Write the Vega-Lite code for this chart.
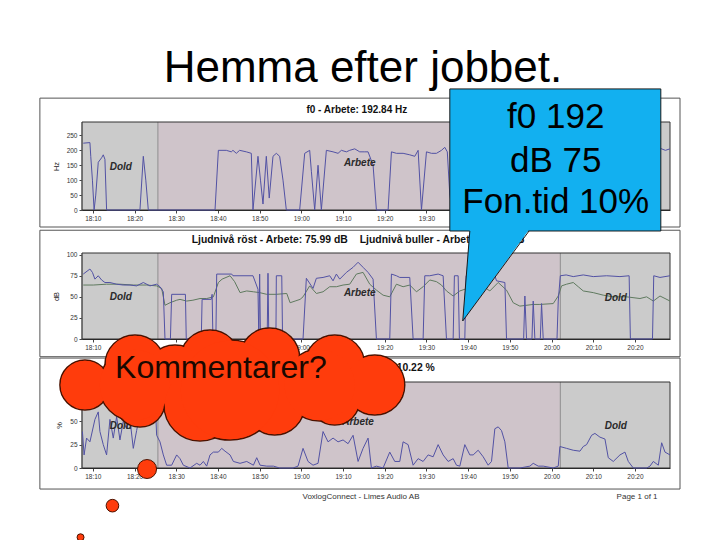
{
  "$schema": "https://vega.github.io/schema/vega-lite/v6.json",
  "background": "white",
  "padding": {"left": 39, "top": 47, "right": 5, "bottom": 0},
  "title": {"text": "Hemma efter jobbet.", "fontSize": 44, "fontWeight": "normal", "font": "Liberation Sans", "color": "#000000", "anchor": "middle", "offset": -3, "dx": 3},
  "config": {
    "font": "Liberation Sans",
    "view": {"stroke": null},
    "axis": {"grid": false, "labelFont": "Liberation Sans", "titleFont": "Liberation Sans", "labelFontSize": 6.5, "titleFontSize": 7.5, "titleFontWeight": "normal", "labelColor": "#333333", "titleColor": "#222222", "domainColor": "#222222", "tickColor": "#444444", "tickSize": 3, "labelPadding": 2}
  },
  "datasets": {
    "regions": [{"m": 7.4, "m2": 25.6, "zon": "Dold"}, {"m": 25.6, "m2": 122.1, "zon": "Arbete"}, {"m": 122.1, "m2": 148.4, "zon": "Dold"}],
    "w25": [{"m":8.1,"v":88.8},{"m":21.3,"v":70.6},{"m":68.0,"v":72.7}],
    "w30": [{"m":20.1,"v":110.2},{"m":38.1,"v":115.5},{"m":52.4,"v":117.6},{"m":68.0,"v":110.2},{"m":77.6,"v":88.8},{"m":53.6,"v":67.4},{"m":29.7,"v":99.5}],
    "w36": [{"m":20.1,"v":88.8},{"m":64.4,"v":88.8},{"m":35.7,"v":67.4}],
    "w50": [{"m":42.9,"v":83.4}],
    "f0": [{"m":7.7,"v":224},{"m":9.3,"v":226},{"m":9.5,"v":180},{"m":9.9,"v":100},{"m":10.3,"v":0},{"m":10.7,"v":50},{"m":11.3,"v":160},{"m":12.1,"v":175},{"m":12.5,"v":185},{"m":12.9,"v":170},{"m":13.3,"v":0},{"m":21.3,"v":0},{"m":22.1,"v":180},{"m":22.7,"v":100},{"m":23.3,"v":0},{"m":39.3,"v":0},{"m":40.1,"v":200},{"m":42.0,"v":200},{"m":43.2,"v":195},{"m":43.6,"v":200},{"m":44.4,"v":190},{"m":45.2,"v":200},{"m":46.8,"v":195},{"m":48.0,"v":190},{"m":48.4,"v":0},{"m":49.6,"v":180},{"m":50.2,"v":100},{"m":50.8,"v":20},{"m":51.6,"v":180},{"m":52.3,"v":40},{"m":53.2,"v":180},{"m":54.0,"v":190},{"m":54.8,"v":180},{"m":55.6,"v":100},{"m":56.4,"v":0},{"m":59.6,"v":0},{"m":60.8,"v":190},{"m":62.0,"v":200},{"m":62.4,"v":130},{"m":63.2,"v":0},{"m":64.0,"v":150},{"m":64.8,"v":0},{"m":66.0,"v":200},{"m":67.6,"v":195},{"m":68.8,"v":190},{"m":69.6,"v":200},{"m":70.8,"v":195},{"m":71.6,"v":200},{"m":72.8,"v":205},{"m":74.0,"v":195},{"m":75.2,"v":195},{"m":76.0,"v":195},{"m":77.2,"v":150},{"m":78.0,"v":0},{"m":80.8,"v":0},{"m":81.6,"v":195},{"m":82.8,"v":190},{"m":84.4,"v":190},{"m":86.0,"v":185},{"m":87.2,"v":180},{"m":88.0,"v":200},{"m":88.8,"v":0},{"m":90.0,"v":195},{"m":91.2,"v":190},{"m":92.4,"v":190},{"m":93.6,"v":200},{"m":94.4,"v":210},{"m":95.0,"v":195},{"m":95.6,"v":50},{"m":96.2,"v":0},{"m":96.9,"v":0},{"m":97.3,"v":195},{"m":97.8,"v":0},{"m":99.4,"v":0},{"m":99.8,"v":195},{"m":101.5,"v":200},{"m":103.2,"v":190},{"m":105.0,"v":198},{"m":106.4,"v":190},{"m":108.8,"v":185},{"m":109.2,"v":0},{"m":113.4,"v":0},{"m":113.7,"v":170},{"m":114.0,"v":0},{"m":115.4,"v":0},{"m":115.7,"v":160},{"m":116.0,"v":0},{"m":117.4,"v":0},{"m":117.7,"v":150},{"m":118.0,"v":0},{"m":121.8,"v":0},{"m":122.2,"v":200},{"m":124.5,"v":205},{"m":127.0,"v":198},{"m":129.5,"v":202},{"m":132.0,"v":200},{"m":134.5,"v":198},{"m":137.0,"v":203},{"m":138.6,"v":200},{"m":138.9,"v":0},{"m":144.2,"v":0},{"m":144.6,"v":200},{"m":146.2,"v":206},{"m":147.3,"v":200},{"m":148.4,"v":205}],
    "rost": [{"m":7.7,"v":77},{"m":9.3,"v":83},{"m":9.9,"v":79},{"m":10.5,"v":71},{"m":11.3,"v":75},{"m":12.1,"v":70},{"m":12.9,"v":67},{"m":14.1,"v":67},{"m":15.7,"v":65},{"m":17.3,"v":64},{"m":18.9,"v":64},{"m":20.5,"v":63},{"m":22.1,"v":67},{"m":23.7,"v":63},{"m":25.3,"v":65},{"m":26.1,"v":62},{"m":26.9,"v":56},{"m":27.3,"v":0},{"m":28.6,"v":0},{"m":28.9,"v":53},{"m":32.2,"v":53},{"m":32.4,"v":0},{"m":36.0,"v":0},{"m":36.2,"v":47},{"m":38.4,"v":47},{"m":38.6,"v":53},{"m":38.8,"v":0},{"m":39.5,"v":0},{"m":39.7,"v":77},{"m":43.3,"v":77},{"m":43.6,"v":75},{"m":48.4,"v":75},{"m":49.6,"v":59},{"m":49.8,"v":0},{"m":50.0,"v":77},{"m":50.2,"v":0},{"m":51.8,"v":0},{"m":52.0,"v":78},{"m":52.2,"v":0},{"m":53.9,"v":0},{"m":54.0,"v":75},{"m":55.3,"v":75},{"m":55.5,"v":0},{"m":60.4,"v":0},{"m":61.2,"v":72},{"m":62.8,"v":60},{"m":63.6,"v":72},{"m":65.2,"v":73},{"m":66.8,"v":75},{"m":67.6,"v":69},{"m":68.4,"v":77},{"m":69.2,"v":71},{"m":70.8,"v":79},{"m":72.4,"v":85},{"m":73.6,"v":91},{"m":74.8,"v":85},{"m":76.0,"v":79},{"m":77.2,"v":71},{"m":78.0,"v":0},{"m":81.2,"v":0},{"m":81.6,"v":77},{"m":82.8,"v":75},{"m":83.6,"v":73},{"m":86.0,"v":73},{"m":86.8,"v":0},{"m":89.2,"v":0},{"m":89.6,"v":75},{"m":90.8,"v":75},{"m":92.8,"v":77},{"m":94.0,"v":75},{"m":94.8,"v":0},{"m":96.4,"v":0},{"m":96.7,"v":75},{"m":97.6,"v":75},{"m":97.9,"v":0},{"m":99.2,"v":0},{"m":99.5,"v":75},{"m":101.5,"v":75},{"m":103.5,"v":76},{"m":105.5,"v":75},{"m":106.4,"v":75},{"m":106.8,"v":69},{"m":108.8,"v":67},{"m":109.2,"v":0},{"m":113.3,"v":0},{"m":113.6,"v":51},{"m":114.0,"v":0},{"m":115.3,"v":0},{"m":115.6,"v":45},{"m":116.0,"v":0},{"m":117.3,"v":0},{"m":117.6,"v":42},{"m":118.0,"v":0},{"m":121.3,"v":0},{"m":121.6,"v":45},{"m":122.1,"v":75},{"m":123.5,"v":76},{"m":125.2,"v":74},{"m":127.6,"v":76},{"m":130.0,"v":74},{"m":133.2,"v":75},{"m":136.4,"v":74},{"m":138.6,"v":75},{"m":138.9,"v":0},{"m":144.2,"v":0},{"m":144.5,"v":75},{"m":146.0,"v":73},{"m":148.4,"v":75}],
    "buller": [{"m":7.7,"v":64},{"m":10.1,"v":64},{"m":13.3,"v":65},{"m":16.5,"v":65},{"m":19.7,"v":64},{"m":22.9,"v":64},{"m":25.3,"v":63},{"m":26.5,"v":60},{"m":27.3,"v":40},{"m":28.5,"v":43},{"m":30.1,"v":46},{"m":30.9,"v":47},{"m":32.5,"v":45},{"m":34.0,"v":46},{"m":35.7,"v":48},{"m":37.3,"v":48},{"m":38.9,"v":50},{"m":40.1,"v":67},{"m":41.0,"v":71},{"m":42.9,"v":75},{"m":44.0,"v":68},{"m":45.3,"v":55},{"m":46.9,"v":57},{"m":48.5,"v":56},{"m":50.0,"v":55},{"m":51.7,"v":53},{"m":54.0,"v":53},{"m":56.5,"v":54},{"m":57.3,"v":43},{"m":58.5,"v":45},{"m":59.7,"v":47},{"m":60.4,"v":50},{"m":62.0,"v":63},{"m":63.6,"v":54},{"m":65.2,"v":56},{"m":66.8,"v":62},{"m":68.4,"v":62},{"m":70.0,"v":64},{"m":71.6,"v":65},{"m":73.2,"v":77},{"m":74.8,"v":79},{"m":76.4,"v":65},{"m":78.0,"v":58},{"m":79.6,"v":52},{"m":81.2,"v":50},{"m":82.8,"v":65},{"m":84.4,"v":62},{"m":86.0,"v":64},{"m":87.6,"v":56},{"m":89.2,"v":62},{"m":90.8,"v":70},{"m":92.4,"v":68},{"m":93.6,"v":64},{"m":94.8,"v":57},{"m":96.4,"v":51},{"m":98.0,"v":57},{"m":100.4,"v":61},{"m":102.8,"v":65},{"m":105.2,"v":57},{"m":107.2,"v":67},{"m":109.2,"v":58},{"m":110.8,"v":43},{"m":112.4,"v":39},{"m":115.6,"v":41},{"m":117.2,"v":41},{"m":120.4,"v":42},{"m":121.6,"v":51},{"m":122.4,"v":63},{"m":123.6,"v":65},{"m":125.2,"v":67},{"m":126.4,"v":62},{"m":127.6,"v":57},{"m":130.0,"v":55},{"m":132.4,"v":52},{"m":134.8,"v":50},{"m":138.0,"v":50},{"m":141.2,"v":48},{"m":142.8,"v":50},{"m":144.4,"v":45},{"m":146.0,"v":51},{"m":148.4,"v":45}],
    "fon": [{"m":7.5,"v":39},{"m":7.9,"v":14},{"m":8.5,"v":32},{"m":9.3,"v":28},{"m":10.5,"v":52},{"m":11.3,"v":60},{"m":11.7,"v":39},{"m":12.5,"v":25},{"m":13.3,"v":14},{"m":14.1,"v":52},{"m":14.9,"v":32},{"m":15.7,"v":55},{"m":16.5,"v":30},{"m":17.3,"v":50},{"m":18.1,"v":42},{"m":18.9,"v":52},{"m":19.7,"v":21},{"m":20.5,"v":40},{"m":21.3,"v":58},{"m":22.1,"v":45},{"m":22.9,"v":65},{"m":23.7,"v":50},{"m":24.5,"v":70},{"m":25.1,"v":55},{"m":25.3,"v":35},{"m":26.1,"v":28},{"m":26.9,"v":14},{"m":27.7,"v":3},{"m":28.9,"v":3},{"m":30.1,"v":14},{"m":30.9,"v":10},{"m":31.7,"v":3},{"m":33.3,"v":0},{"m":34.9,"v":5},{"m":35.7,"v":3},{"m":36.5,"v":7},{"m":37.3,"v":2},{"m":38.1,"v":14},{"m":38.9,"v":17},{"m":40.1,"v":17},{"m":40.9,"v":21},{"m":41.7,"v":18},{"m":42.9,"v":14},{"m":43.7,"v":7},{"m":45.3,"v":5},{"m":46.9,"v":7},{"m":48.5,"v":3},{"m":49.3,"v":11},{"m":50.1,"v":3},{"m":51.7,"v":2},{"m":53.3,"v":2},{"m":54.8,"v":0},{"m":58.0,"v":0},{"m":59.2,"v":2},{"m":60.4,"v":21},{"m":61.6,"v":7},{"m":62.8,"v":3},{"m":64.0,"v":5},{"m":65.2,"v":39},{"m":66.4,"v":28},{"m":67.6,"v":32},{"m":68.8,"v":28},{"m":70.0,"v":30},{"m":71.2,"v":26},{"m":72.4,"v":35},{"m":73.6,"v":7},{"m":74.8,"v":21},{"m":76.0,"v":32},{"m":76.8,"v":0},{"m":78.0,"v":2},{"m":79.6,"v":0},{"m":81.2,"v":17},{"m":82.4,"v":7},{"m":83.6,"v":7},{"m":84.4,"v":28},{"m":85.6,"v":25},{"m":86.8,"v":3},{"m":88.0,"v":10},{"m":89.2,"v":7},{"m":90.4,"v":14},{"m":91.6,"v":12},{"m":92.8,"v":25},{"m":94.0,"v":14},{"m":95.2,"v":7},{"m":96.4,"v":10},{"m":97.2,"v":3},{"m":98.0,"v":2},{"m":99.2,"v":25},{"m":100.4,"v":14},{"m":101.2,"v":14},{"m":102.4,"v":19},{"m":103.6,"v":12},{"m":104.8,"v":3},{"m":105.6,"v":7},{"m":106.4,"v":42},{"m":107.2,"v":44},{"m":108.0,"v":40},{"m":108.8,"v":28},{"m":109.6,"v":0},{"m":112.4,"v":0},{"m":114.8,"v":2},{"m":115.6,"v":5},{"m":116.8,"v":2},{"m":118.0,"v":2},{"m":120.4,"v":0},{"m":121.6,"v":2},{"m":122.0,"v":23},{"m":123.6,"v":21},{"m":125.2,"v":19},{"m":126.8,"v":18},{"m":127.6,"v":23},{"m":128.4,"v":25},{"m":129.6,"v":35},{"m":130.4,"v":37},{"m":131.6,"v":33},{"m":132.8,"v":31},{"m":133.6,"v":11},{"m":134.8,"v":7},{"m":136.4,"v":14},{"m":137.6,"v":17},{"m":138.4,"v":7},{"m":139.6,"v":0},{"m":142.8,"v":0},{"m":143.6,"v":2},{"m":144.4,"v":7},{"m":145.6,"v":3},{"m":146.4,"v":27},{"m":147.2,"v":17},{"m":148.4,"v":14}]
  },
  "bounds": "flush",
  "spacing": 43,
  "vconcat": [
    {
      "width": 588, "height": 88,
      "layer": [
        {"data": {"values": [{"m": -2.7, "m2": 150.8, "v": 375, "v2": -57}]}, "mark": {"type": "rect", "filled": false, "stroke": "#555555", "strokeWidth": 1},
         "encoding": {"x": {"field": "m", "type": "quantitative", "scale": {"domain": [7.4, 148.4], "nice": false, "zero": false}, "axis": {"title": null, "values": [10,20,30,40,50,60,70,80,90], "labelExpr": "timeFormat(datetime(2000, 0, 1, 18, datum.value, 0, 0), '%H:%M')"}}, "x2": {"field": "m2"}, "y": {"field": "v", "type": "quantitative", "scale": {"domain": [0, 295], "nice": false}, "axis": {"title": "Hz", "values": [0, 50, 100, 150, 200, 250], "titlePadding": 6}}, "y2": {"field": "v2"}}},
        {"data": {"name": "regions"}, "mark": {"type": "rect"},
         "encoding": {"x": {"field": "m", "type": "quantitative", "scale": {"domain": [7.4, 148.4], "nice": false, "zero": false}, "axis": {"title": null, "values": [10,20,30,40,50,60,70,80,90], "labelExpr": "timeFormat(datetime(2000, 0, 1, 18, datum.value, 0, 0), '%H:%M')"}}, "x2": {"field": "m2"}, "color": {"field": "zon", "type": "nominal", "scale": {"domain": ["Dold", "Arbete"], "range": ["#cbcbcb", "#cfc4ca"]}, "legend": null}}},
        {"data": {"name": "regions"}, "mark": {"type": "rule", "color": "#8c8c8c", "strokeWidth": 1},
         "encoding": {"x": {"field": "m", "type": "quantitative", "scale": {"domain": [7.4, 148.4], "nice": false, "zero": false}, "axis": {"title": null, "values": [10,20,30,40,50,60,70,80,90], "labelExpr": "timeFormat(datetime(2000, 0, 1, 18, datum.value, 0, 0), '%H:%M')"}}}},
        {"data": {"values": [{"m": 7.4, "m2": 148.4, "v": 0, "v2": 295}]}, "mark": {"type": "rect", "filled": false, "stroke": "#333333", "strokeWidth": 1},
         "encoding": {"x": {"field": "m", "type": "quantitative", "scale": {"domain": [7.4, 148.4], "nice": false, "zero": false}, "axis": {"title": null, "values": [10,20,30,40,50,60,70,80,90], "labelExpr": "timeFormat(datetime(2000, 0, 1, 18, datum.value, 0, 0), '%H:%M')"}}, "x2": {"field": "m2"}, "y": {"field": "v", "type": "quantitative", "scale": {"domain": [0, 295], "nice": false}, "axis": {"title": "Hz", "values": [0, 50, 100, 150, 200, 250], "titlePadding": 6}}, "y2": {"field": "v2"}}},
        {"data": {"name": "f0"}, "mark": {"type": "line", "color": "#5252a4", "strokeWidth": 1},
         "encoding": {"x": {"field": "m", "type": "quantitative", "scale": {"domain": [7.4, 148.4], "nice": false, "zero": false}, "axis": {"title": null, "values": [10,20,30,40,50,60,70,80,90], "labelExpr": "timeFormat(datetime(2000, 0, 1, 18, datum.value, 0, 0), '%H:%M')"}}, "y": {"field": "v", "type": "quantitative", "scale": {"domain": [0, 295], "nice": false}, "axis": {"title": "Hz", "values": [0, 50, 100, 150, 200, 250], "titlePadding": 6}}}},
        {"data": {"values": [{"m": 16.7, "v": 145, "t": "Dold"}, {"m": 74.0, "v": 159, "t": "Arbete"}]}, "mark": {"type": "text", "fontSize": 10, "fontWeight": "bold", "fontStyle": "italic", "color": "#2a2a2a"},
         "encoding": {"x": {"field": "m", "type": "quantitative", "scale": {"domain": [7.4, 148.4], "nice": false, "zero": false}, "axis": {"title": null, "values": [10,20,30,40,50,60,70,80,90], "labelExpr": "timeFormat(datetime(2000, 0, 1, 18, datum.value, 0, 0), '%H:%M')"}}, "y": {"field": "v", "type": "quantitative", "scale": {"domain": [0, 295], "nice": false}, "axis": {"title": "Hz", "values": [0, 50, 100, 150, 200, 250], "titlePadding": 6}}, "text": {"field": "t"}}},
        {"data": {"values": [{"m": 73.3, "v": 335, "t": "f0 - Arbete: 192.84 Hz"}]}, "mark": {"type": "text", "fontSize": 10, "fontWeight": "bold", "color": "#111111"},
         "encoding": {"x": {"field": "m", "type": "quantitative", "scale": {"domain": [7.4, 148.4], "nice": false, "zero": false}, "axis": {"title": null, "values": [10,20,30,40,50,60,70,80,90], "labelExpr": "timeFormat(datetime(2000, 0, 1, 18, datum.value, 0, 0), '%H:%M')"}}, "y": {"field": "v", "type": "quantitative", "scale": {"domain": [0, 295], "nice": false}, "axis": {"title": "Hz", "values": [0, 50, 100, 150, 200, 250], "titlePadding": 6}}, "text": {"field": "t"}}}
      ]
    },
    {
      "width": 588, "height": 86,
      "layer": [
        {"data": {"values": [{"m": -2.7, "m2": 150.8, "v": 129, "v2": -21}]}, "mark": {"type": "rect", "filled": false, "stroke": "#555555", "strokeWidth": 1},
         "encoding": {"x": {"field": "m", "type": "quantitative", "scale": {"domain": [7.4, 148.4], "nice": false, "zero": false}, "axis": {"title": null, "values": [10,20,30,40,50,60,70,80,90,100,110,120,130,140], "labelExpr": "timeFormat(datetime(2000, 0, 1, 18, datum.value, 0, 0), '%H:%M')"}}, "x2": {"field": "m2"}, "y": {"field": "v", "type": "quantitative", "scale": {"domain": [0, 102], "nice": false}, "axis": {"title": "dB", "values": [0, 25, 50, 75, 100], "titlePadding": 6}}, "y2": {"field": "v2"}}},
        {"data": {"name": "regions"}, "mark": {"type": "rect"},
         "encoding": {"x": {"field": "m", "type": "quantitative", "scale": {"domain": [7.4, 148.4], "nice": false, "zero": false}, "axis": {"title": null, "values": [10,20,30,40,50,60,70,80,90,100,110,120,130,140], "labelExpr": "timeFormat(datetime(2000, 0, 1, 18, datum.value, 0, 0), '%H:%M')"}}, "x2": {"field": "m2"}, "color": {"field": "zon", "type": "nominal", "scale": {"domain": ["Dold", "Arbete"], "range": ["#cbcbcb", "#cfc4ca"]}, "legend": null}}},
        {"data": {"name": "regions"}, "mark": {"type": "rule", "color": "#8c8c8c", "strokeWidth": 1},
         "encoding": {"x": {"field": "m", "type": "quantitative", "scale": {"domain": [7.4, 148.4], "nice": false, "zero": false}, "axis": {"title": null, "values": [10,20,30,40,50,60,70,80,90,100,110,120,130,140], "labelExpr": "timeFormat(datetime(2000, 0, 1, 18, datum.value, 0, 0), '%H:%M')"}}}},
        {"data": {"values": [{"m": 7.4, "m2": 148.4, "v": 0, "v2": 102}]}, "mark": {"type": "rect", "filled": false, "stroke": "#333333", "strokeWidth": 1},
         "encoding": {"x": {"field": "m", "type": "quantitative", "scale": {"domain": [7.4, 148.4], "nice": false, "zero": false}, "axis": {"title": null, "values": [10,20,30,40,50,60,70,80,90,100,110,120,130,140], "labelExpr": "timeFormat(datetime(2000, 0, 1, 18, datum.value, 0, 0), '%H:%M')"}}, "x2": {"field": "m2"}, "y": {"field": "v", "type": "quantitative", "scale": {"domain": [0, 102], "nice": false}, "axis": {"title": "dB", "values": [0, 25, 50, 75, 100], "titlePadding": 6}}, "y2": {"field": "v2"}}},
        {"data": {"name": "buller"}, "mark": {"type": "line", "color": "#5f7a5f", "strokeWidth": 1},
         "encoding": {"x": {"field": "m", "type": "quantitative", "scale": {"domain": [7.4, 148.4], "nice": false, "zero": false}, "axis": {"title": null, "values": [10,20,30,40,50,60,70,80,90,100,110,120,130,140], "labelExpr": "timeFormat(datetime(2000, 0, 1, 18, datum.value, 0, 0), '%H:%M')"}}, "y": {"field": "v", "type": "quantitative", "scale": {"domain": [0, 102], "nice": false}, "axis": {"title": "dB", "values": [0, 25, 50, 75, 100], "titlePadding": 6}}}},
        {"data": {"name": "rost"}, "mark": {"type": "line", "color": "#5252a4", "strokeWidth": 1},
         "encoding": {"x": {"field": "m", "type": "quantitative", "scale": {"domain": [7.4, 148.4], "nice": false, "zero": false}, "axis": {"title": null, "values": [10,20,30,40,50,60,70,80,90,100,110,120,130,140], "labelExpr": "timeFormat(datetime(2000, 0, 1, 18, datum.value, 0, 0), '%H:%M')"}}, "y": {"field": "v", "type": "quantitative", "scale": {"domain": [0, 102], "nice": false}, "axis": {"title": "dB", "values": [0, 25, 50, 75, 100], "titlePadding": 6}}}},
        {"data": {"values": [{"m": 16.7, "v": 50, "t": "Dold"}, {"m": 74.0, "v": 54, "t": "Arbete"}, {"m": 135.4, "v": 49, "t": "Dold"}]}, "mark": {"type": "text", "fontSize": 10, "fontWeight": "bold", "fontStyle": "italic", "color": "#2a2a2a"},
         "encoding": {"x": {"field": "m", "type": "quantitative", "scale": {"domain": [7.4, 148.4], "nice": false, "zero": false}, "axis": {"title": null, "values": [10,20,30,40,50,60,70,80,90,100,110,120,130,140], "labelExpr": "timeFormat(datetime(2000, 0, 1, 18, datum.value, 0, 0), '%H:%M')"}}, "y": {"field": "v", "type": "quantitative", "scale": {"domain": [0, 102], "nice": false}, "axis": {"title": "dB", "values": [0, 25, 50, 75, 100], "titlePadding": 6}}, "text": {"field": "t"}}},
        {"data": {"values": [{"m": 33.7, "v": 117.4, "t": "Ljudnivå röst - Arbete: 75.99 dB"}, {"m": 74.0, "v": 117.4, "t": "Ljudnivå buller - Arbete: 57.41 dB"}]}, "mark": {"type": "text", "fontSize": 10.4, "fontWeight": "bold", "align": "left", "color": "#111111"},
         "encoding": {"x": {"field": "m", "type": "quantitative", "scale": {"domain": [7.4, 148.4], "nice": false, "zero": false}, "axis": {"title": null, "values": [10,20,30,40,50,60,70,80,90,100,110,120,130,140], "labelExpr": "timeFormat(datetime(2000, 0, 1, 18, datum.value, 0, 0), '%H:%M')"}}, "y": {"field": "v", "type": "quantitative", "scale": {"domain": [0, 102], "nice": false}, "axis": {"title": "dB", "values": [0, 25, 50, 75, 100], "titlePadding": 6}}, "text": {"field": "t"}}},
        {"data": {"values": [{"m": 95.6, "m2": 146.2, "v": 296.6, "v2": 128.1}]}, "mark": {"type": "rect", "fill": "#12b0f0", "stroke": "#1a1a1a", "strokeWidth": 1},
         "encoding": {"x": {"field": "m", "type": "quantitative", "scale": {"domain": [7.4, 148.4], "nice": false, "zero": false}, "axis": {"title": null, "values": [10,20,30,40,50,60,70,80,90,100,110,120,130,140], "labelExpr": "timeFormat(datetime(2000, 0, 1, 18, datum.value, 0, 0), '%H:%M')"}}, "x2": {"field": "m2"}, "y": {"field": "v", "type": "quantitative", "scale": {"domain": [0, 102], "nice": false}, "axis": {"title": "dB", "values": [0, 25, 50, 75, 100], "titlePadding": 6}}, "y2": {"field": "v2"}}},
        {"data": {"values": [{"m": 98.7, "v": 21.4, "v2": 21.4}, {"m": 100.4, "v": 131, "v2": 33.0}, {"m": 114.8, "v": 131, "v2": 131}]}, "mark": {"type": "area", "fill": "#12b0f0", "opacity": 1},
         "encoding": {"x": {"field": "m", "type": "quantitative", "scale": {"domain": [7.4, 148.4], "nice": false, "zero": false}, "axis": {"title": null, "values": [10,20,30,40,50,60,70,80,90,100,110,120,130,140], "labelExpr": "timeFormat(datetime(2000, 0, 1, 18, datum.value, 0, 0), '%H:%M')"}}, "y": {"field": "v", "type": "quantitative", "scale": {"domain": [0, 102], "nice": false}, "axis": {"title": "dB", "values": [0, 25, 50, 75, 100], "titlePadding": 6}}, "y2": {"field": "v2"}}},
        {"data": {"values": [{"m": 100.4, "v": 128.1, "o": 1}, {"m": 98.7, "v": 21.4, "o": 2}, {"m": 114.6, "v": 128.1, "o": 3}]}, "mark": {"type": "line", "color": "#1a1a1a", "strokeWidth": 1},
         "encoding": {"x": {"field": "m", "type": "quantitative", "scale": {"domain": [7.4, 148.4], "nice": false, "zero": false}, "axis": {"title": null, "values": [10,20,30,40,50,60,70,80,90,100,110,120,130,140], "labelExpr": "timeFormat(datetime(2000, 0, 1, 18, datum.value, 0, 0), '%H:%M')"}}, "y": {"field": "v", "type": "quantitative", "scale": {"domain": [0, 102], "nice": false}, "axis": {"title": "dB", "values": [0, 25, 50, 75, 100], "titlePadding": 6}}, "order": {"field": "o", "type": "quantitative"}}},
        {"data": {"values": [{"m": 121.0, "v": 250.6, "t": "f0 192"}, {"m": 121.0, "v": 198.1, "t": "dB 75"}, {"m": 121.0, "v": 149.8, "t": "Fon.tid 10%"}]}, "mark": {"type": "text", "fontSize": 35, "font": "Liberation Sans", "baseline": "alphabetic", "align": "center", "color": "#000000"},
         "encoding": {"x": {"field": "m", "type": "quantitative", "scale": {"domain": [7.4, 148.4], "nice": false, "zero": false}, "axis": {"title": null, "values": [10,20,30,40,50,60,70,80,90,100,110,120,130,140], "labelExpr": "timeFormat(datetime(2000, 0, 1, 18, datum.value, 0, 0), '%H:%M')"}}, "y": {"field": "v", "type": "quantitative", "scale": {"domain": [0, 102], "nice": false}, "axis": {"title": "dB", "values": [0, 25, 50, 75, 100], "titlePadding": 6}}, "text": {"field": "t"}}}
      ]
    },
    {
      "width": 588, "height": 86,
      "layer": [
        {"data": {"values": [{"m": -2.7, "m2": 150.8, "v": 117.6, "v2": -22.5}]}, "mark": {"type": "rect", "filled": false, "stroke": "#555555", "strokeWidth": 1},
         "encoding": {"x": {"field": "m", "type": "quantitative", "scale": {"domain": [7.4, 148.4], "nice": false, "zero": false}, "axis": {"title": null, "values": [10,20,30,40,50,60,70,80,90,100,110,120,130,140], "labelExpr": "timeFormat(datetime(2000, 0, 1, 18, datum.value, 0, 0), '%H:%M')"}}, "x2": {"field": "m2"}, "y": {"field": "v", "type": "quantitative", "scale": {"domain": [0, 92], "nice": false}, "axis": {"title": "%", "values": [0, 25, 50, 75], "titlePadding": 6}}, "y2": {"field": "v2"}}},
        {"data": {"name": "regions"}, "mark": {"type": "rect"},
         "encoding": {"x": {"field": "m", "type": "quantitative", "scale": {"domain": [7.4, 148.4], "nice": false, "zero": false}, "axis": {"title": null, "values": [10,20,30,40,50,60,70,80,90,100,110,120,130,140], "labelExpr": "timeFormat(datetime(2000, 0, 1, 18, datum.value, 0, 0), '%H:%M')"}}, "x2": {"field": "m2"}, "color": {"field": "zon", "type": "nominal", "scale": {"domain": ["Dold", "Arbete"], "range": ["#cbcbcb", "#cfc4ca"]}, "legend": null}}},
        {"data": {"name": "regions"}, "mark": {"type": "rule", "color": "#8c8c8c", "strokeWidth": 1},
         "encoding": {"x": {"field": "m", "type": "quantitative", "scale": {"domain": [7.4, 148.4], "nice": false, "zero": false}, "axis": {"title": null, "values": [10,20,30,40,50,60,70,80,90,100,110,120,130,140], "labelExpr": "timeFormat(datetime(2000, 0, 1, 18, datum.value, 0, 0), '%H:%M')"}}}},
        {"data": {"values": [{"m": 7.4, "m2": 148.4, "v": 0, "v2": 92}]}, "mark": {"type": "rect", "filled": false, "stroke": "#333333", "strokeWidth": 1},
         "encoding": {"x": {"field": "m", "type": "quantitative", "scale": {"domain": [7.4, 148.4], "nice": false, "zero": false}, "axis": {"title": null, "values": [10,20,30,40,50,60,70,80,90,100,110,120,130,140], "labelExpr": "timeFormat(datetime(2000, 0, 1, 18, datum.value, 0, 0), '%H:%M')"}}, "x2": {"field": "m2"}, "y": {"field": "v", "type": "quantitative", "scale": {"domain": [0, 92], "nice": false}, "axis": {"title": "%", "values": [0, 25, 50, 75], "titlePadding": 6}}, "y2": {"field": "v2"}}},
        {"data": {"name": "fon"}, "mark": {"type": "line", "color": "#5252a4", "strokeWidth": 1},
         "encoding": {"x": {"field": "m", "type": "quantitative", "scale": {"domain": [7.4, 148.4], "nice": false, "zero": false}, "axis": {"title": null, "values": [10,20,30,40,50,60,70,80,90,100,110,120,130,140], "labelExpr": "timeFormat(datetime(2000, 0, 1, 18, datum.value, 0, 0), '%H:%M')"}}, "y": {"field": "v", "type": "quantitative", "scale": {"domain": [0, 92], "nice": false}, "axis": {"title": "%", "values": [0, 25, 50, 75], "titlePadding": 6}}}},
        {"data": {"values": [{"m": 16.7, "v": 44.4, "t": "Dold"}, {"m": 73.6, "v": 49.7, "t": "Arbete"}, {"m": 135.4, "v": 45, "t": "Dold"}]}, "mark": {"type": "text", "fontSize": 10, "fontWeight": "bold", "fontStyle": "italic", "color": "#2a2a2a"},
         "encoding": {"x": {"field": "m", "type": "quantitative", "scale": {"domain": [7.4, 148.4], "nice": false, "zero": false}, "axis": {"title": null, "values": [10,20,30,40,50,60,70,80,90,100,110,120,130,140], "labelExpr": "timeFormat(datetime(2000, 0, 1, 18, datum.value, 0, 0), '%H:%M')"}}, "y": {"field": "v", "type": "quantitative", "scale": {"domain": [0, 92], "nice": false}, "axis": {"title": "%", "values": [0, 25, 50, 75], "titlePadding": 6}}, "text": {"field": "t"}}},
        {"data": {"values": [{"m": 92.0, "v": 107.5, "t": "Arbete: 10.22 %"}]}, "mark": {"type": "text", "fontSize": 10.4, "fontWeight": "bold", "align": "right", "color": "#111111"},
         "encoding": {"x": {"field": "m", "type": "quantitative", "scale": {"domain": [7.4, 148.4], "nice": false, "zero": false}, "axis": {"title": null, "values": [10,20,30,40,50,60,70,80,90,100,110,120,130,140], "labelExpr": "timeFormat(datetime(2000, 0, 1, 18, datum.value, 0, 0), '%H:%M')"}}, "y": {"field": "v", "type": "quantitative", "scale": {"domain": [0, 92], "nice": false}, "axis": {"title": "%", "values": [0, 25, 50, 75], "titlePadding": 6}}, "text": {"field": "t"}}},
        {"data": {"values": [{"m": 74.3, "v": -31, "t": "VoxlogConnect - Limes Audio AB"}, {"m": 140.5, "v": -31, "t": "Page 1 of 1"}]}, "mark": {"type": "text", "fontSize": 8, "color": "#333333"},
         "encoding": {"x": {"field": "m", "type": "quantitative", "scale": {"domain": [7.4, 148.4], "nice": false, "zero": false}, "axis": {"title": null, "values": [10,20,30,40,50,60,70,80,90,100,110,120,130,140], "labelExpr": "timeFormat(datetime(2000, 0, 1, 18, datum.value, 0, 0), '%H:%M')"}}, "y": {"field": "v", "type": "quantitative", "scale": {"domain": [0, 92], "nice": false}, "axis": {"title": "%", "values": [0, 25, 50, 75], "titlePadding": 6}}, "text": {"field": "t"}}},
        {"data": {"name": "w25"}, "mark": {"type": "point", "shape": "circle", "filled": true, "fill": "#ff3c0c", "stroke": "#4a1200", "strokeWidth": 1.5, "opacity": 1, "size": 2500},
         "encoding": {"x": {"field": "m", "type": "quantitative", "scale": {"domain": [7.4, 148.4], "nice": false, "zero": false}, "axis": {"title": null, "values": [10,20,30,40,50,60,70,80,90,100,110,120,130,140], "labelExpr": "timeFormat(datetime(2000, 0, 1, 18, datum.value, 0, 0), '%H:%M')"}}, "y": {"field": "v", "type": "quantitative", "scale": {"domain": [0, 92], "nice": false}, "axis": {"title": "%", "values": [0, 25, 50, 75], "titlePadding": 6}}}},
        {"data": {"name": "w30"}, "mark": {"type": "point", "shape": "circle", "filled": true, "fill": "#ff3c0c", "stroke": "#4a1200", "strokeWidth": 1.5, "opacity": 1, "size": 3600},
         "encoding": {"x": {"field": "m", "type": "quantitative", "scale": {"domain": [7.4, 148.4], "nice": false, "zero": false}, "axis": {"title": null, "values": [10,20,30,40,50,60,70,80,90,100,110,120,130,140], "labelExpr": "timeFormat(datetime(2000, 0, 1, 18, datum.value, 0, 0), '%H:%M')"}}, "y": {"field": "v", "type": "quantitative", "scale": {"domain": [0, 92], "nice": false}, "axis": {"title": "%", "values": [0, 25, 50, 75], "titlePadding": 6}}}},
        {"data": {"name": "w36"}, "mark": {"type": "point", "shape": "circle", "filled": true, "fill": "#ff3c0c", "stroke": "#4a1200", "strokeWidth": 1.5, "opacity": 1, "size": 5184},
         "encoding": {"x": {"field": "m", "type": "quantitative", "scale": {"domain": [7.4, 148.4], "nice": false, "zero": false}, "axis": {"title": null, "values": [10,20,30,40,50,60,70,80,90,100,110,120,130,140], "labelExpr": "timeFormat(datetime(2000, 0, 1, 18, datum.value, 0, 0), '%H:%M')"}}, "y": {"field": "v", "type": "quantitative", "scale": {"domain": [0, 92], "nice": false}, "axis": {"title": "%", "values": [0, 25, 50, 75], "titlePadding": 6}}}},
        {"data": {"name": "w50"}, "mark": {"type": "point", "shape": "circle", "filled": true, "fill": "#ff3c0c", "stroke": "#4a1200", "strokeWidth": 1.5, "opacity": 1, "size": 10000},
         "encoding": {"x": {"field": "m", "type": "quantitative", "scale": {"domain": [7.4, 148.4], "nice": false, "zero": false}, "axis": {"title": null, "values": [10,20,30,40,50,60,70,80,90,100,110,120,130,140], "labelExpr": "timeFormat(datetime(2000, 0, 1, 18, datum.value, 0, 0), '%H:%M')"}}, "y": {"field": "v", "type": "quantitative", "scale": {"domain": [0, 92], "nice": false}, "axis": {"title": "%", "values": [0, 25, 50, 75], "titlePadding": 6}}}},
        {"data": {"name": "w25"}, "mark": {"type": "point", "shape": "circle", "filled": true, "fill": "#ff3c0c", "strokeWidth": 0, "opacity": 1, "size": 2343},
         "encoding": {"x": {"field": "m", "type": "quantitative", "scale": {"domain": [7.4, 148.4], "nice": false, "zero": false}, "axis": {"title": null, "values": [10,20,30,40,50,60,70,80,90,100,110,120,130,140], "labelExpr": "timeFormat(datetime(2000, 0, 1, 18, datum.value, 0, 0), '%H:%M')"}}, "y": {"field": "v", "type": "quantitative", "scale": {"domain": [0, 92], "nice": false}, "axis": {"title": "%", "values": [0, 25, 50, 75], "titlePadding": 6}}}},
        {"data": {"name": "w30"}, "mark": {"type": "point", "shape": "circle", "filled": true, "fill": "#ff3c0c", "strokeWidth": 0, "opacity": 1, "size": 3411},
         "encoding": {"x": {"field": "m", "type": "quantitative", "scale": {"domain": [7.4, 148.4], "nice": false, "zero": false}, "axis": {"title": null, "values": [10,20,30,40,50,60,70,80,90,100,110,120,130,140], "labelExpr": "timeFormat(datetime(2000, 0, 1, 18, datum.value, 0, 0), '%H:%M')"}}, "y": {"field": "v", "type": "quantitative", "scale": {"domain": [0, 92], "nice": false}, "axis": {"title": "%", "values": [0, 25, 50, 75], "titlePadding": 6}}}},
        {"data": {"name": "w36"}, "mark": {"type": "point", "shape": "circle", "filled": true, "fill": "#ff3c0c", "strokeWidth": 0, "opacity": 1, "size": 4956},
         "encoding": {"x": {"field": "m", "type": "quantitative", "scale": {"domain": [7.4, 148.4], "nice": false, "zero": false}, "axis": {"title": null, "values": [10,20,30,40,50,60,70,80,90,100,110,120,130,140], "labelExpr": "timeFormat(datetime(2000, 0, 1, 18, datum.value, 0, 0), '%H:%M')"}}, "y": {"field": "v", "type": "quantitative", "scale": {"domain": [0, 92], "nice": false}, "axis": {"title": "%", "values": [0, 25, 50, 75], "titlePadding": 6}}}},
        {"data": {"name": "w50"}, "mark": {"type": "point", "shape": "circle", "filled": true, "fill": "#ff3c0c", "strokeWidth": 0, "opacity": 1, "size": 9683},
         "encoding": {"x": {"field": "m", "type": "quantitative", "scale": {"domain": [7.4, 148.4], "nice": false, "zero": false}, "axis": {"title": null, "values": [10,20,30,40,50,60,70,80,90,100,110,120,130,140], "labelExpr": "timeFormat(datetime(2000, 0, 1, 18, datum.value, 0, 0), '%H:%M')"}}, "y": {"field": "v", "type": "quantitative", "scale": {"domain": [0, 92], "nice": false}, "axis": {"title": "%", "values": [0, 25, 50, 75], "titlePadding": 6}}}},
        {"data": {"values": [{"m": 40.7, "v": 95.9, "t": "Kommentarer?"}]}, "mark": {"type": "text", "fontSize": 32, "font": "Liberation Sans", "baseline": "alphabetic", "align": "center", "color": "#1a0800"},
         "encoding": {"x": {"field": "m", "type": "quantitative", "scale": {"domain": [7.4, 148.4], "nice": false, "zero": false}, "axis": {"title": null, "values": [10,20,30,40,50,60,70,80,90,100,110,120,130,140], "labelExpr": "timeFormat(datetime(2000, 0, 1, 18, datum.value, 0, 0), '%H:%M')"}}, "y": {"field": "v", "type": "quantitative", "scale": {"domain": [0, 92], "nice": false}, "axis": {"title": "%", "values": [0, 25, 50, 75], "titlePadding": 6}}, "text": {"field": "t"}}},
        {"data": {"values": [{"m": 23.0, "v": -1.1}]}, "mark": {"type": "point", "shape": "circle", "filled": true, "fill": "#ff3c0c", "stroke": "#4a1200", "strokeWidth": 1, "opacity": 1, "size": 361},
         "encoding": {"x": {"field": "m", "type": "quantitative", "scale": {"domain": [7.4, 148.4], "nice": false, "zero": false}, "axis": {"title": null, "values": [10,20,30,40,50,60,70,80,90,100,110,120,130,140], "labelExpr": "timeFormat(datetime(2000, 0, 1, 18, datum.value, 0, 0), '%H:%M')"}}, "y": {"field": "v", "type": "quantitative", "scale": {"domain": [0, 92], "nice": false}, "axis": {"title": "%", "values": [0, 25, 50, 75], "titlePadding": 6}}}},
        {"data": {"values": [{"m": 14.7, "v": -40.3}]}, "mark": {"type": "point", "shape": "circle", "filled": true, "fill": "#ff3c0c", "stroke": "#4a1200", "strokeWidth": 1, "opacity": 1, "size": 159},
         "encoding": {"x": {"field": "m", "type": "quantitative", "scale": {"domain": [7.4, 148.4], "nice": false, "zero": false}, "axis": {"title": null, "values": [10,20,30,40,50,60,70,80,90,100,110,120,130,140], "labelExpr": "timeFormat(datetime(2000, 0, 1, 18, datum.value, 0, 0), '%H:%M')"}}, "y": {"field": "v", "type": "quantitative", "scale": {"domain": [0, 92], "nice": false}, "axis": {"title": "%", "values": [0, 25, 50, 75], "titlePadding": 6}}}},
        {"data": {"values": [{"m": 7.05, "v": -74.1}]}, "mark": {"type": "point", "shape": "circle", "filled": true, "fill": "#ff3c0c", "stroke": "#4a1200", "strokeWidth": 1, "opacity": 1, "size": 49},
         "encoding": {"x": {"field": "m", "type": "quantitative", "scale": {"domain": [7.4, 148.4], "nice": false, "zero": false}, "axis": {"title": null, "values": [10,20,30,40,50,60,70,80,90,100,110,120,130,140], "labelExpr": "timeFormat(datetime(2000, 0, 1, 18, datum.value, 0, 0), '%H:%M')"}}, "y": {"field": "v", "type": "quantitative", "scale": {"domain": [0, 92], "nice": false}, "axis": {"title": "%", "values": [0, 25, 50, 75], "titlePadding": 6}}}}
      ]
    }
  ]
}
